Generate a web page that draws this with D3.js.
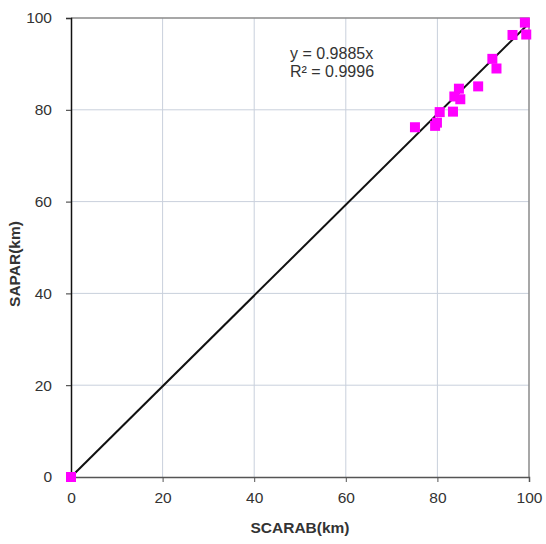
<!DOCTYPE html>
<html>
<head>
<meta charset="utf-8">
<script src="https://cdn.jsdelivr.net/npm/d3@7"></script>
<style>
  body { margin: 0; background: #fff; }
  svg { font-family: "Liberation Sans", Arial, sans-serif; }
</style>
</head>
<body>
<svg id="chart" width="546" height="544"></svg>
<script>
// SCARAB vs SAPAR (km)
const scarab = [0, 75.1, 79.5, 79.9, 80.5, 83.4, 83.7, 84.7, 85.0, 88.9, 92.0, 92.9, 96.4, 99.1, 99.4];
const sapar  = [0, 76.2, 76.5, 77.2, 79.5, 79.6, 82.9, 84.6, 82.3, 85.1, 91.1, 89.0, 96.3, 99.0, 96.4];
const slope = 0.9885;
const ticks = [0, 20, 40, 60, 80, 100];
const eqLines = ["y = 0.9885x", "R² = 0.9996"];

const svg = d3.select("#chart");
const mLeft = 71, mRight = 529, mTop = 18, mBottom = 477;

const x = d3.scaleLinear().domain([0, 100]).range([mLeft, mRight]);
const y = d3.scaleLinear().domain([0, 100]).range([mBottom, mTop]);

// grid
svg.append("g")
  .selectAll("line")
  .data(ticks.slice(1, -1))
  .join("line")
  .attr("x1", (d) => x(d)).attr("x2", (d) => x(d))
  .attr("y1", mTop).attr("y2", mBottom)
  .attr("stroke", "#c9d0dc").attr("stroke-width", 1);

svg.append("g")
  .selectAll("line")
  .data(ticks.slice(1, -1))
  .join("line")
  .attr("y1", (d) => y(d)).attr("y2", (d) => y(d))
  .attr("x1", mLeft).attr("x2", mRight)
  .attr("stroke", "#c9d0dc").attr("stroke-width", 1);

// plot border (top / right)
svg.append("path")
  .attr("d", `M${mLeft},${mTop}H${mRight}V${mBottom}`)
  .attr("fill", "none")
  .attr("stroke", "#8a8a8a")
  .attr("stroke-width", 1.5);

// axes
const xAxis = svg.append("g")
  .attr("transform", `translate(0,${mBottom})`)
  .call(d3.axisBottom(x).tickValues(ticks).tickSize(5).tickPadding(10));
xAxis.select(".domain").attr("stroke", "#555").attr("stroke-width", 1.5);
xAxis.selectAll(".tick line").attr("stroke", "#555");
xAxis.selectAll("text").attr("font-size", 15.5).attr("fill", "#333")
  .attr("font-family", "Liberation Sans, Arial, sans-serif");

const yAxis = svg.append("g")
  .attr("transform", `translate(${mLeft},0)`)
  .call(d3.axisLeft(y).tickValues(ticks).tickSize(5).tickPadding(14));
yAxis.select(".domain").attr("stroke", "#111").attr("stroke-width", 1.5);
yAxis.selectAll(".tick line").attr("stroke", "#333");
yAxis.selectAll("text").attr("font-size", 15.5).attr("fill", "#333")
  .attr("font-family", "Liberation Sans, Arial, sans-serif");

// trend line
svg.append("line")
  .attr("x1", x(0)).attr("y1", y(0))
  .attr("x2", x(100)).attr("y2", y(100 * slope))
  .attr("stroke", "#111")
  .attr("stroke-width", 2);

// points
const size = 10;
svg.append("g")
  .selectAll("rect")
  .data(d3.zip(scarab, sapar))
  .join("rect")
  .attr("x", (d) => x(d[0]) - size / 2)
  .attr("y", (d) => y(d[1]) - size / 2)
  .attr("width", size)
  .attr("height", size)
  .attr("fill", "#ff00ff");

// equation
svg.append("g")
  .selectAll("text")
  .data(eqLines)
  .join("text")
  .attr("x", 290)
  .attr("y", (d, i) => 59 + i * 18)
  .attr("font-size", 16)
  .attr("fill", "#333")
  .text((d) => d);

// axis titles
svg.append("text")
  .attr("x", 300)
  .attr("y", 533)
  .attr("text-anchor", "middle")
  .attr("font-size", 15.5)
  .attr("font-weight", "bold")
  .attr("fill", "#333")
  .text("SCARAB(km)");

svg.append("text")
  .attr("transform", `translate(20,264) rotate(-90)`)
  .attr("text-anchor", "middle")
  .attr("font-size", 15.5)
  .attr("font-weight", "bold")
  .attr("fill", "#333")
  .text("SAPAR(km)");
</script>
</body>
</html>
